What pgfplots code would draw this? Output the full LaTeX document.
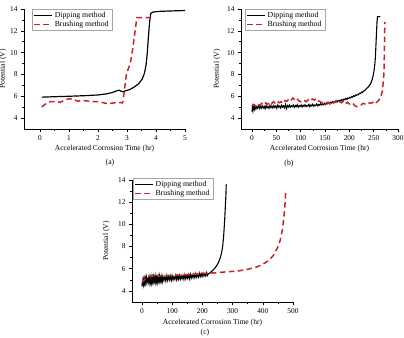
\documentclass[border=0pt]{standalone}
\usepackage{fontspec}
\setmainfont{Liberation Serif}
\usepackage{pgfplots}
\pgfplotsset{compat=1.18}
\definecolor{brushred}{RGB}{204,32,40}

\pgfplotsset{
  corrosion/.style={
    scale only axis,
    axis lines*=left,
    axis line style={line width=0.6pt},
    tick align=outside,
    major tick length=3bp,
    minor tick length=1.6bp,
    tick style={line width=0.5pt,black},
    minor tick num=1,
    ymin=3, ymax=14,
    ytick={4,6,...,14},
    font=\fontsize{7.6}{8.5}\selectfont,
    tick label style={font=\fontsize{7.4}{8}\selectfont},
    /pgf/number format/assume math mode=true,
    ylabel={Potential (V)},
    xlabel={Accelerated Corrosion Time (hr)},
    legend cell align=left,
    legend style={draw=gray!70, line width=0.4pt, inner xsep=1.5pt, inner ysep=0.5pt,
      row sep=-1.5pt, font=\fontsize{7.8}{8.5}\selectfont},
    legend image code/.code={\draw[#1] (0cm,0cm) -- (0.62cm,0cm);},
  },
  dip/.style={black, line width=1.2pt},
  brush/.style={brushred, line width=1.5pt, dash pattern=on 5.5pt off 3.5pt},
}

\begin{document}
\begin{tikzpicture}
\useasboundingbox (0,0) rectangle (404bp,338bp);

% ---------------- (a) ----------------
\begin{axis}[corrosion,
  at={(24bp,209bp)}, anchor=south west,
  width=161bp, height=120bp,
  xmin=-0.55, xmax=5, xtick={0,1,...,5},
  ylabel style={at={(axis description cs:-0.13,0.5)}, anchor=center},
  xlabel style={at={(axis description cs:0.5,-0.167)}, anchor=center},
  legend style={at={(axis description cs:0.05,1)}, anchor=north west},
]
\addplot[dip] coordinates {
 (0.06,5.92) (0.5,5.96) (1.0,6.0) (1.5,6.05) (2.0,6.12) (2.3,6.22) (2.5,6.35)
 (2.65,6.5) (2.72,6.56) (2.78,6.48) (2.85,6.42) (2.95,6.5) (3.1,6.62) (3.25,6.85)
 (3.4,7.15) (3.52,7.55) (3.6,8.1) (3.66,8.9) (3.7,10.0) (3.74,11.5) (3.78,12.8)
 (3.82,13.6) (3.9,13.72) (4.1,13.78) (4.5,13.82) (5.0,13.86)
};
\addlegendentry{Dipping method}
\addplot[brush] coordinates {
 (0.06,5.02) (0.2,5.3) (0.35,5.5) (0.5,5.52) (0.7,5.45) (0.85,5.65) (1.0,5.78)
 (1.15,5.72) (1.3,5.55) (1.45,5.62) (1.6,5.58) (1.8,5.5) (2.0,5.5) (2.2,5.4)
 (2.35,5.3) (2.5,5.38) (2.7,5.42) (2.85,5.4) (2.9,6.3) (2.98,8.0) (3.12,9.1)
 (3.2,10.4) (3.28,12.0) (3.34,13.2) (3.9,13.2)
};
\addlegendentry{Brushing method}
\end{axis}

% ---------------- (b) ----------------
\begin{axis}[corrosion,
  at={(241bp,209bp)}, anchor=south west,
  width=157bp, height=120bp,
  xmin=-22.5, xmax=300, xtick={0,50,...,300},
  ylabel style={at={(axis description cs:-0.153,0.5)}, anchor=center},
  xlabel style={at={(axis description cs:0.5,-0.168)}, anchor=center},
  legend style={at={(axis description cs:0.025,1)}, anchor=north west},
]
\addplot[dip, line width=1.1pt] coordinates {
 (0,4.6) (1,5.0) (2,4.7) (3,5.05) (5,4.8) (6,5.1) (8,4.85) (9,5.05) (11,4.9)
 (13,5.15) (15,4.88) (17,5.1) (19,4.9) (21,5.12) (23,4.92) (25,5.08) (27,4.86)
 (29,5.15) (31,4.95) (33,5.05) (35,4.9) (37,5.18) (39,4.95) (41,5.1) (43,4.92)
 (45,5.15) (47,4.98) (49,5.12) (51,4.9) (53,5.2) (55,5.0) (57,5.1) (59,4.93)
 (61,5.18) (63,5.0) (65,5.12) (67,4.95) (69,5.25) (71,4.88) (73,5.15) (75,5.02)
 (77,5.2) (79,5.0) (81,5.12) (83,5.05) (85,5.2) (87,4.98) (89,5.15) (91,5.05)
 (93,5.22) (95,5.0) (97,5.15) (99,5.06) (101,5.2) (103,5.02) (105,5.18) (107,5.08)
 (109,5.22) (111,5.05) (113,5.16) (115,5.1) (117,5.25) (119,5.05) (121,5.2)
 (123,5.12) (125,5.28) (127,5.08) (129,5.2) (131,5.15) (133,5.3) (135,5.12)
 (137,5.25) (139,5.18) (141,5.32) (143,5.2) (145,5.3) (147,5.22) (149,5.36)
 (151,5.25) (153,5.38) (155,5.3) (157,5.42) (159,5.32) (161,5.45) (163,5.38)
 (165,5.5) (167,5.4) (169,5.52) (171,5.45) (173,5.58) (175,5.48) (177,5.6)
 (179,5.55) (181,5.65) (183,5.58) (185,5.7) (187,5.62) (189,5.75) (191,5.68)
 (193,5.8) (195,5.72) (197,5.85) (199,5.78) (201,5.9) (203,5.85) (205,5.98)
 (207,5.92) (209,6.05) (211,6.0) (213,6.12) (215,6.08) (217,6.18) (219,6.15)
 (221,6.28) (223,6.25) (225,6.38) (227,6.35) (229,6.48) (231,6.5) (233,6.6)
 (235,6.68) (237,6.78) (239,6.85) (241,6.98) (243,7.1) (245,7.3) (247,7.55)
 (249,7.9) (251,8.4) (253,9.2) (254,10.0) (255,11.0) (256,12.0) (257,12.9)
 (258,13.3) (264,13.3)
};
\addlegendentry{Dipping method}
\addplot[brush] coordinates {
 (0,5.1) (4,5.25) (8,5.1) (12,5.3) (16,5.15) (20,5.35) (24,5.2) (28,5.4)
 (32,5.25) (36,5.45) (40,5.3) (44,5.5) (48,5.35) (52,5.55) (56,5.4) (60,5.5)
 (64,5.35) (68,5.6) (72,5.55) (76,5.75) (80,5.6) (84,5.85) (88,5.65) (92,5.8)
 (96,5.6) (100,5.5) (104,5.45) (108,5.6) (112,5.5) (116,5.7) (120,5.6)
 (124,5.75) (128,5.65) (132,5.8) (136,5.6) (140,5.5) (144,5.4) (148,5.5)
 (152,5.35) (156,5.45) (160,5.3) (164,5.5) (168,5.4) (172,5.55) (176,5.35)
 (180,5.5) (184,5.4) (188,5.55) (192,5.3) (196,5.45) (200,5.3) (204,5.2)
 (208,5.3) (212,5.1) (216,5.05) (220,5.15) (224,5.2) (228,5.35) (232,5.3)
 (236,5.45) (240,5.4) (244,5.35) (248,5.45) (252,5.3) (256,5.45) (260,5.6)
 (264,5.9) (268,6.5) (271,8.0) (272,10.0) (273,12.8)
};
\addlegendentry{Brushing method}
\end{axis}

% ---------------- (c) ----------------
\begin{axis}[corrosion,
  at={(132bp,36bp)}, anchor=south west,
  width=161bp, height=122bp,
  xmin=-33, xmax=500, xtick={0,100,...,500},
  ylabel style={at={(axis description cs:-0.16,0.5)}, anchor=center},
  xlabel style={at={(axis description cs:0.5,-0.172)}, anchor=center},
  legend style={at={(axis description cs:0.006,1.016)}, anchor=north west},
]
\addplot[dip, line width=1.1pt] coordinates {
 (0,4.4) (1,4.8) (2,4.5) (3,4.9) (5,4.6) (6,5.0) (8,4.7) (9,5.05) (11,4.75)
 (12,5.1) (14,4.8) (15,5.15) (17,4.75) (18,5.2) (20,4.8) (22,5.15) (24,4.75)
 (26,5.2) (28,4.8) (30,5.25) (32,4.75) (34,5.2) (36,4.8) (38,5.25) (40,4.85)
 (42,5.2) (44,4.8) (46,5.3) (48,4.85) (50,5.2) (52,4.8) (54,5.25) (56,4.9)
 (58,5.3) (60,4.85) (62,5.2) (64,4.9) (66,5.3) (68,4.9) (70,5.25) (73,4.95)
 (76,5.3) (79,4.9) (82,5.35) (85,4.95) (88,5.3) (91,5.0) (94,5.35) (97,4.95)
 (100,5.35) (103,5.0) (106,5.3) (109,5.05) (112,5.4) (115,5.0) (118,5.35)
 (121,5.05) (124,5.4) (127,5.05) (130,5.35) (133,5.1) (136,5.4) (139,5.05)
 (142,5.45) (145,5.1) (148,5.4) (151,5.15) (154,5.45) (157,5.1) (160,5.5)
 (163,5.15) (166,5.45) (169,5.2) (172,5.5) (175,5.2) (178,5.55) (181,5.25)
 (184,5.5) (187,5.25) (190,5.6) (193,5.3) (196,5.55) (199,5.3) (202,5.6)
 (205,5.35) (208,5.55) (211,5.35) (214,5.65) (217,5.4) (220,5.55) (224,5.6)
 (228,5.7) (232,5.8) (236,5.9) (240,6.0) (244,6.15) (248,6.3) (252,6.5)
 (256,6.75) (260,7.05) (264,7.5) (267,8.0) (270,8.8) (272,9.6) (274,10.5)
 (276,11.6) (278,12.7) (279,13.6)
};
\addlegendentry{Dipping method}
\addplot[brush] coordinates {
 (0,4.75) (8,5.0) (15,5.25) (30,5.3) (100,5.4) (150,5.45) (200,5.55) (250,5.65)
 (280,5.72) (320,5.8) (350,5.95) (380,6.15) (400,6.4) (420,6.75) (435,7.2)
 (447,7.8) (457,8.5) (464,9.4) (469,10.4) (473,11.6) (476,13.0)
};
\addlegendentry{Brushing method}
\end{axis}

% panel captions
\node[font=\fontsize{7.8}{8.5}\selectfont] at (110bp,175bp) {(a)};
\node[font=\fontsize{7.8}{8.5}\selectfont] at (289bp,174bp) {(b)};
\node[font=\fontsize{7.8}{8.5}\selectfont] at (205bp,5bp) {(c)};
\end{tikzpicture}
\end{document}
